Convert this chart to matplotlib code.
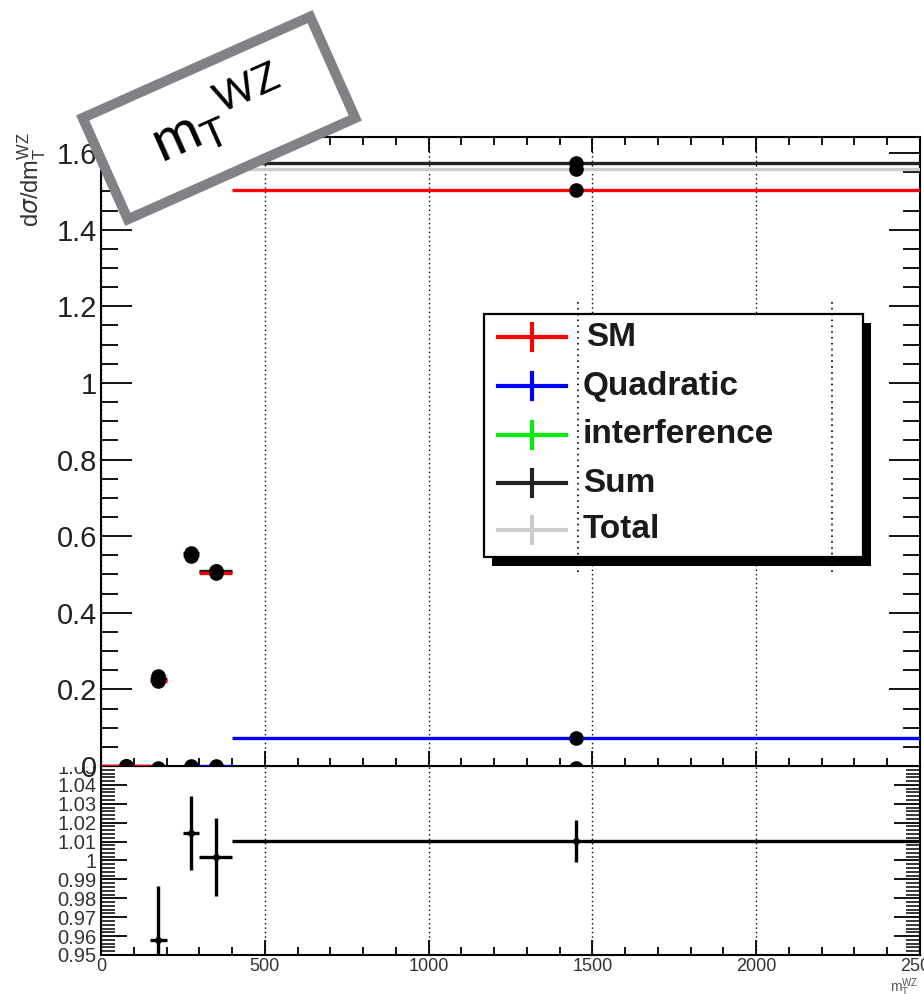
import numpy as np
import matplotlib
matplotlib.use('Agg')
import matplotlib.pyplot as plt
import matplotlib.transforms as mtransforms
from matplotlib.patches import Rectangle
from matplotlib.lines import Line2D
from matplotlib.ticker import MultipleLocator, FuncFormatter

plt.rcParams['font.family'] = ['Liberation Sans', 'DejaVu Sans']

W, H = 924, 994

# binning in m_T^WZ
bin_lo = [0, 150, 250, 300, 400]
bin_hi = [150, 200, 300, 400, 2500]

# dsigma/dm_T^WZ per component
sm = [0.0, 0.222, 0.552, 0.505, 1.504]
quadratic = [0.0, np.nan, 0.0, 0.0, 0.073]
interference = [-0.004, -0.006, -0.005, -0.004, -0.004]
sum_vals = [0.0, 0.227, 0.556, 0.509, 1.574]
total = [np.nan, 0.235, 0.548, 0.508, 1.559]

# Sum / Total
ratio = [np.nan, 0.958, 1.0146, 1.0019, 1.0103]
ratio_err = [np.nan, 0.0285, 0.0195, 0.0205, 0.0113]

labels = ['SM', 'Quadratic', 'interference', 'Sum', 'Total']
colors = ['#ff0000', '#0000ff', '#00ee00', '#222222', '#cccccc']


def px(x, y):
    """pixel position (from top-left) -> figure fraction"""
    return x / W, 1 - y / H


lo = np.array(bin_lo, float)
hi = np.array(bin_hi, float)
xc = (lo + hi) / 2
xw = (hi - lo) / 2

fig = plt.figure(figsize=(W / 100, H / 100), dpi=100)
rx = fig.add_axes([101 / W, 1 - 955 / H, 819 / W, 189 / H], zorder=0)
ax = fig.add_axes([101 / W, 1 - 766 / H, 819 / W, 629 / H], zorder=2)

# ---- main panel
series = [total, quadratic, interference, sum_vals, sm]
series_col = [colors[4], colors[1], colors[2], colors[3], colors[0]]
for vals, col in zip(series, series_col):
    ax.errorbar(xc, vals, xerr=xw, fmt='none', ecolor=col, elinewidth=2.4, zorder=3)
for vals in series:
    ax.plot(xc, vals, 'o', color='k', ms=9.5, zorder=5)

ax.set_xlim(0, 2500)
ax.set_ylim(0, 1.642)
ax.xaxis.set_major_locator(MultipleLocator(500))
ax.xaxis.set_minor_locator(MultipleLocator(100))
ax.yaxis.set_major_locator(MultipleLocator(0.2))
ax.yaxis.set_minor_locator(MultipleLocator(0.05))
ax.yaxis.set_major_formatter(FuncFormatter(lambda v, p: '%g' % round(v, 3)))
ax.grid(axis='x', which='major', linestyle=(0, (1, 2.2)), color='k', lw=1)
ax.tick_params(axis='x', which='both', direction='in', top=True, bottom=True, labelbottom=False)
ax.tick_params(axis='x', which='major', length=11, width=1.3)
ax.tick_params(axis='x', which='minor', length=6, width=1.3)
ax.tick_params(axis='y', which='both', direction='in', left=True, right=True)
ax.tick_params(axis='y', which='major', length=22, width=1.3, labelsize=21, pad=3, labelcolor='#222222')
ax.tick_params(axis='y', which='minor', length=12, width=1.3)
for s in ax.spines.values():
    s.set_linewidth(1.5)

# ---- ratio panel
rx.errorbar(xc, ratio, xerr=xw, yerr=ratio_err, fmt='o', color='k', ms=4,
            elinewidth=2.4, capsize=0, zorder=3)
rx.set_xlim(0, 2500)
rx.set_ylim(0.95, 1.05)
rx.xaxis.set_major_locator(MultipleLocator(500))
rx.xaxis.set_minor_locator(MultipleLocator(100))
rx.yaxis.set_major_locator(MultipleLocator(0.01))
rx.yaxis.set_minor_locator(MultipleLocator(0.002))
rx.yaxis.set_major_formatter(FuncFormatter(lambda v, p: '%g' % round(v, 4)))
rx.grid(axis='x', which='major', linestyle=(0, (1, 2.2)), color='k', lw=1)
rx.tick_params(axis='x', which='both', direction='in', top=False, bottom=True,
               labelsize=13, labelcolor='#333333', pad=2)
rx.tick_params(axis='x', which='major', length=11, width=1.3)
rx.tick_params(axis='x', which='minor', length=6, width=1.3)
rx.tick_params(axis='y', which='both', direction='in', left=True, right=True)
rx.tick_params(axis='y', which='major', length=19, width=1.3, labelsize=14.5, pad=3, labelcolor='#333333')
rx.tick_params(axis='y', which='minor', length=10, width=1.1)
for s in rx.spines.values():
    s.set_linewidth(1.5)

# upper pad covers the top of the ratio labels
x0, y0 = px(0, 767)
fig.add_artist(Rectangle((x0, y0), 100 / W, 22 / H, transform=fig.transFigure,
                         fc='white', ec='none', zorder=1))

# axis titles
x, y = px(32, 132)
fig.text(x, y, r'd$\sigma$/dm$_\mathregular{T}^\mathregular{WZ}$', rotation=90,
         ha='center', va='top', fontsize=17, color='#333333')
x, y = px(904, 988)
fig.text(x, y, r'm$_\mathregular{T}^\mathregular{WZ}$', ha='center', va='center',
         fontsize=10, color='#555555')

# ---- legend with drop shadow
lx0, ly0, lx1, ly1 = 484, 314, 863, 557
x, y = px(lx0 + 8, ly1 + 9)
fig.add_artist(Rectangle((x, y), (lx1 - lx0) / W, (ly1 - ly0) / H,
                         transform=fig.transFigure, fc='k', ec='none', zorder=20))
x, y = px(lx0, ly1)
fig.add_artist(Rectangle((x, y), (lx1 - lx0) / W, (ly1 - ly0) / H,
                         transform=fig.transFigure, fc='white', ec='k', lw=1.6, zorder=21))
rows = [337, 386, 435, 483, 530]
for lab, col, ry in zip(labels, colors, rows):
    xa, ya = px(498, ry)
    xb, _ = px(566, ry)
    xm, _ = px(532, ry)
    fig.add_artist(Line2D([xa, xb], [ya, ya], transform=fig.transFigure,
                          color=col, lw=3, zorder=22))
    fig.add_artist(Line2D([xm, xm], [ya - 13 / H, ya + 13 / H], transform=fig.transFigure,
                          color=col, lw=3, zorder=22))
    xt, yt = px(586 if lab == 'SM' else 583, ry)
    fig.text(xt, yt, lab, ha='left', va='center', fontsize=24, fontweight='bold',
             color='#1a1a1a', zorder=23)

# stray dotted lines through the legend
for gx in (578, 832):
    xa, ya = px(gx, 302)
    _, yb = px(gx, 574)
    fig.add_artist(Line2D([xa, xa], [ya, yb], transform=fig.transFigure,
                          color='k', lw=1.2, linestyle=(0, (1, 2.5)), zorder=24))

# ---- tilted observable tag
cx, cy = 219 / 100, (H - 118) / 100
bw, bh = 2.49, 1.11
tr = mtransforms.Affine2D().rotate_deg_around(cx, cy, 24) + fig.dpi_scale_trans
fig.add_artist(Rectangle((cx - bw / 2, cy - bh / 2), bw, bh, transform=tr,
                         fc='white', ec='#808285', lw=7.2, zorder=30))
x, y = px(218, 116)
fig.text(x, y, r'$\mathregular{m_T{}^{WZ}}$', rotation=24, rotation_mode='anchor',
         ha='center', va='center', fontsize=42, family='Lato', fontweight='normal',
         color='k', zorder=31)

fig.savefig('out.png', dpi=100)
